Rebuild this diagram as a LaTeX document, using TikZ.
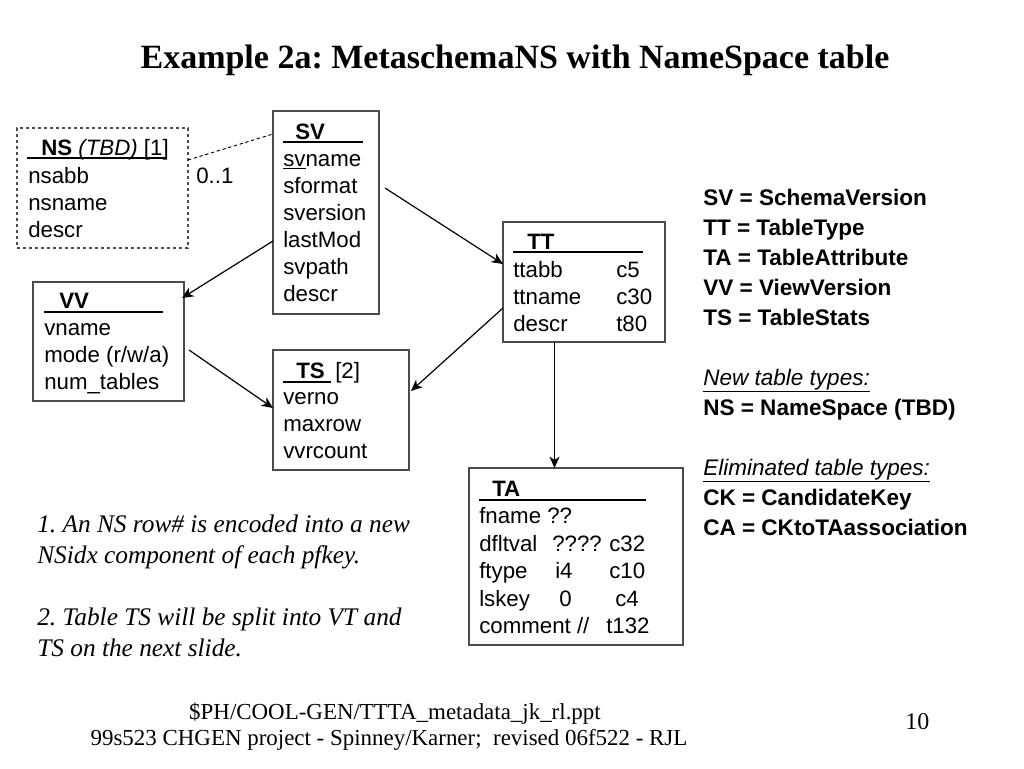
\documentclass[tikz,border=0pt]{standalone}
\usepackage{fontspec}
\setmainfont{Liberation Serif}
\setsansfont{Liberation Sans}
\usetikzlibrary{arrows.meta,fit}
\frenchspacing
\begin{document}
\frenchspacing
\begin{tikzpicture}[x=0.75pt,y=-0.75pt,
  box/.style={draw=black!70, line width=1pt, inner sep=0pt, rectangle},
  txt/.style={anchor=base west, inner sep=0pt, font=\sffamily\fontsize{16.7}{20}\selectfont},
  hdr/.style={txt, font=\sffamily\bfseries\fontsize{16.7}{20}\selectfont},
  uline/.style={line width=1.2pt},
  arr/.style={line width=0.9pt, -{Stealth[length=8.5pt,width=7.5pt,inset=2.5pt]}},
  leg/.style={anchor=base west, inner sep=0pt, font=\sffamily\bfseries\fontsize{16.9}{20}\selectfont},
  legi/.style={anchor=base west, inner sep=0pt, font=\sffamily\itshape\fontsize{16.9}{20}\selectfont},
  note/.style={anchor=base west, inner sep=0pt, font=\rmfamily\itshape\fontsize{19}{23}\selectfont},
  foot/.style={anchor=base, inner sep=0pt, font=\rmfamily\fontsize{17.2}{20}\selectfont}]
\useasboundingbox[fill=white] (0,0) rectangle (1024,768);

% title
\node[anchor=base, inner sep=0pt, font=\rmfamily\bfseries\fontsize{25.5}{30}\selectfont] (title) at (515,68) {Example 2a: MetaschemaNS with NameSpace table};

% boxes
\node[box, dashed, dash pattern=on 2.5pt off 2pt, fit={(17,128) (188,248)}] (ns) {};
\node[box, fit={(273,111) (379,314)}] (sv) {};
\node[box, fit={(503,222) (665,342)}] (tt) {};
\node[box, fit={(33,282) (184,401)}] (vv) {};
\node[box, fit={(273,350) (409,470)}] (ts) {};
\node[box, fit={(469,468) (683,645)}] (ta) {};

% NS
\node[hdr] (nsh) at (41,155) {NS \mdseries\itshape(TBD)\upshape\ [1]};
\draw[uline] (27,158) -- (167,158);
\node[txt] (ns1) at (28,183) {nsabb};
\node[txt] (ns2) at (28,210) {nsname};
\node[txt] (ns3) at (28,237) {descr};

% SV
\node[hdr] (svh) at (295,139) {SV};
\draw[uline] (283,142) -- (363,142);
\node[txt] (sv1) at (283,166) {\underline{sv}name};
\node[txt] (sv2) at (283,193) {sformat};
\node[txt] (sv3) at (283,220) {sversion};
\node[txt] (sv4) at (283,247) {lastMod};
\node[txt] (sv5) at (283,274) {svpath};
\node[txt] (sv6) at (283,301) {descr};

% TT
\node[hdr] (tth) at (527,249) {TT};
\draw[uline] (513,252) -- (643,252);
\node[txt] (tt1) at (513,277) {ttabb};
\node[txt] (tt2) at (513,304) {ttname};
\node[txt] (tt3) at (513,331) {descr};
\node[txt] (tt1b) at (616,277) {c5};
\node[txt] (tt2b) at (616,304) {c30};
\node[txt] (tt3b) at (616,331) {t80};

% VV
\node[hdr] (vvh) at (59,308) {VV};
\draw[uline] (44,312) -- (163,312);
\node[txt] (vv1) at (44,335) {vname};
\node[txt] (vv2) at (44,362) {mode (r/w/a)};
\node[txt] (vv3) at (44,389) {num\_tables};

% TS
\node[hdr] (tsh) at (296,378) {TS};
\node[txt] (tsn) at (335,378) {[2]};
\draw[uline] (283,382) -- (331,382);
\node[txt] (ts1) at (283,404) {verno};
\node[txt] (ts2) at (283,431) {maxrow};
\node[txt] (ts3) at (283,458) {vvrcount};

% TA
\node[hdr] (tah) at (492,496) {TA};
\draw[uline] (479,500) -- (646,500);
\node[txt] (ta1) at (479,523) {fname ??};
\node[txt] (ta2) at (479,551) {dfltval};
\node[txt] (ta2b) at (552,551) {????};
\node[txt] (ta2c) at (609,551) {c32};
\node[txt] (ta3) at (479,578) {ftype};
\node[txt] (ta3b) at (555,578) {i4};
\node[txt] (ta3c) at (609,578) {c10};
\node[txt] (ta4) at (479,606) {lskey};
\node[txt] (ta4b) at (559,606) {0};
\node[txt] (ta4c) at (615,606) {c4};
\node[txt] (ta5) at (479,633) {comment //};
\node[txt] (ta5b) at (606,633) {t132};

% connectors
\coordinate (nsR) at (188,160);
\coordinate (svL) at (273,134);
\draw[line width=0.7pt, dashed, dash pattern=on 2.5pt off 2pt] (nsR) -- (svL);
\node[txt] (card) at (196,183) {0..1};

\coordinate (svA) at (385,188);
\coordinate (ttA) at (503,264);
\draw[arr] (svA) -- (ttA);

\coordinate (svB) at (273,241);
\coordinate (vvA) at (182,298);
\draw[arr] (svB) -- (vvA);

\coordinate (vvB) at (189,350);
\coordinate (tsA) at (273,408);
\draw[arr] (vvB) -- (tsA);

\coordinate (ttB) at (503,308);
\coordinate (tsB) at (411,391);
\draw[arr] (ttB) -- (tsB);

\coordinate (ttC) at (554.5,342);
\coordinate (taA) at (554.5,468);
\draw[arr] (ttC) -- (taA);

% legend
\node[leg] (l1) at (703,205) {SV = SchemaVersion};
\node[leg] (l2) at (703,235) {TT = TableType};
\node[leg] (l3) at (703,265) {TA = TableAttribute};
\node[leg] (l4) at (703,295) {VV = ViewVersion};
\node[leg] (l5) at (703,325) {TS = TableStats};
\node[legi] (l6) at (703,385) {\underline{New table types:}};
\node[leg] (l7) at (703,415) {NS = NameSpace (TBD)};
\node[legi] (l8) at (703,475) {\underline{Eliminated table types:}};
\node[leg] (l9) at (703,505) {CK = CandidateKey};
\node[leg] (l10) at (703,535) {CA = CKtoTAassociation};

% notes
\node[note] (n1) at (37,532) {1. An NS row\# is encoded into a new};
\node[note] (n2) at (37,563) {NSidx component of each pfkey.};
\node[note] (n3) at (37,625) {2. Table TS will be split into VT and};
\node[note] (n4) at (37,656) {TS on the next slide.};

% footer
\node[foot] (f1) at (395,719) {\$PH/COOL-GEN/TTTA\_metadata\_jk\_rl.ppt};
\node[foot] (f2) at (389,745) {99s523 CHGEN project - Spinney/Karner;\ \ revised 06f522 - RJL};
\node[anchor=base west, inner sep=0pt, font=\rmfamily\fontsize{18}{20}\selectfont] (pg) at (905,729) {10};
\end{tikzpicture}
\end{document}
